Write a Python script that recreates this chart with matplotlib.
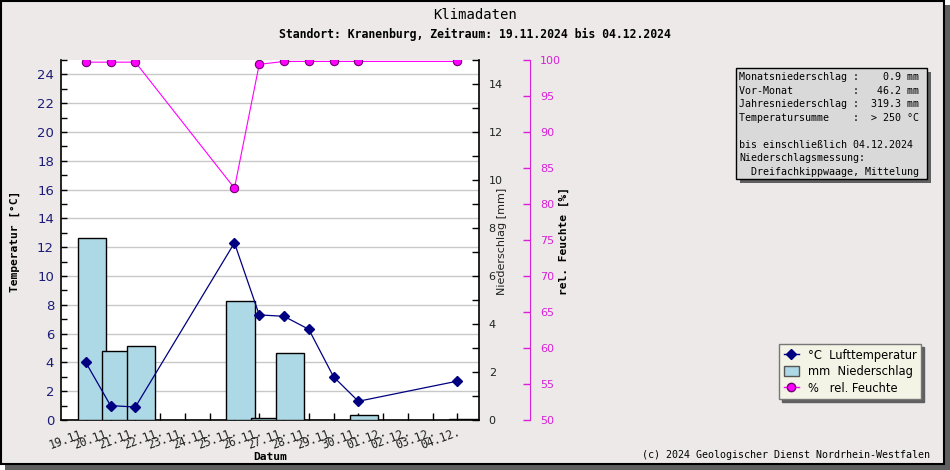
import matplotlib
matplotlib.use('Agg')
import matplotlib.pyplot as plt
from matplotlib.patches import Rectangle, Patch
from matplotlib.lines import Line2D
from matplotlib.ticker import MultipleLocator

# data
dates = ['19.11.', '20.11.', '21.11.', '22.11.', '23.11.', '24.11.', '25.11.', '26.11.',
         '27.11.', '28.11.', '29.11.', '30.11.', '01.12.', '02.12.', '03.12.', '04.12.']
day_idx = [0, 1, 2, 6, 7, 8, 9, 10, 11, 15]
temp = [4.0, 1.0, 0.9, 12.3, 7.3, 7.2, 6.3, 3.0, 1.3, 2.7]
humid = [99.7, 99.7, 99.7, 82.2, 99.4, 99.8, 99.8, 99.8, 99.8, 99.8]
rain_idx = [0, 1, 2, 6, 7, 8, 11, 15]
rain = [7.57, 2.86, 3.07, 4.95, 0.07, 2.78, 0.2, 0.03]

info_lines = ["Monatsniederschlag :    0.9 mm",
              "Vor-Monat          :   46.2 mm",
              "Jahresniederschlag :  319.3 mm",
              "Temperatursumme    :  > 250 °C",
              "",
              "bis einschließlich 04.12.2024",
              "Niederschlagsmessung:",
              "  Dreifachkippwaage, Mittelung"]

W, H = 950, 470
MONO = 'DejaVu Sans Mono'
NAVY = '#000080'
MAG = '#FF00FF'
MAG_TXT = '#D820D8'


def fx(x):
    return x / W


def fy(y):
    return 1 - y / H


fig = plt.figure(figsize=(9.5, 4.7), dpi=100, facecolor='white')

# frame with shadow
fig.add_artist(Rectangle((fx(5), fy(470)), 945 / W, 465 / H, transform=fig.transFigure,
                         facecolor='#5f5f5f', edgecolor='none', zorder=-3))
fig.add_artist(Rectangle((fx(1), fy(464)), 943 / W, 463 / H, transform=fig.transFigure,
                         facecolor='#ECE9E8', edgecolor='black', linewidth=1.5, zorder=-2))

rect = [fx(61), fy(420), (479 - 61) / W, 360 / H]

# temperature axis (base, carries the grid)
ax_t = fig.add_axes(rect, zorder=1)
ax_t.set_facecolor('white')
ax_t.set_xlim(-1.0, 15.87)
ax_t.set_ylim(0, 25)
ax_t.yaxis.set_major_locator(MultipleLocator(2))
ax_t.yaxis.set_minor_locator(MultipleLocator(1))
ax_t.grid(axis='y', which='major', color='#C8C8C8', linewidth=1)
ax_t.set_axisbelow(True)
ax_t.tick_params(axis='y', which='both', direction='in', length=4, width=1,
                 labelsize=9.5, labelcolor='#1c1c78', pad=5)
ax_t.set_xticks(range(len(dates)))
ax_t.set_xticklabels(dates, rotation=20, ha='right', rotation_mode='anchor',
                     family=MONO, fontsize=8.3, color='#222222')
ax_t.tick_params(axis='x', direction='in', length=5, width=1, pad=4)
for s in ['top', 'right']:
    ax_t.spines[s].set_visible(False)
ax_t.spines['left'].set_linewidth(1.2)
ax_t.spines['bottom'].set_linewidth(1.2)

# precipitation bars
ax_p = ax_t.twinx()
ax_p.set_zorder(2)
ax_p.patch.set_visible(False)
ax_p.set_ylim(0, 15)
ax_p.bar([i + 0.24 for i in rain_idx], rain, width=1.14, color='#ADD8E6',
         edgecolor='black', linewidth=1)
ax_p.yaxis.set_major_locator(MultipleLocator(2))
ax_p.yaxis.set_minor_locator(MultipleLocator(1))
ax_p.tick_params(axis='y', which='both', direction='in', length=5, width=1,
                 labelsize=8, labelcolor='#222222', pad=7)
for s in ['top', 'left', 'bottom']:
    ax_p.spines[s].set_visible(False)
ax_p.spines['right'].set_linewidth(1.2)

# temperature line above the bars
ax_l = fig.add_axes(rect, sharex=ax_t, sharey=ax_t, zorder=3)
ax_l.patch.set_visible(False)
ax_l.axis('off')
ax_l.plot(day_idx, temp, color=NAVY, linewidth=0.9, marker='D', markersize=5,
          markerfacecolor=NAVY, markeredgecolor=NAVY)

# humidity
ax_h = ax_t.twinx()
ax_h.set_zorder(4)
ax_h.patch.set_visible(False)
ax_h.set_ylim(50, 100)
ax_h.plot(day_idx, humid, color=MAG, linewidth=0.8, marker='o', markersize=6,
          markerfacecolor=MAG, markeredgecolor='#700070', markeredgewidth=0.8)
ax_h.yaxis.set_major_locator(MultipleLocator(5))
ax_h.tick_params(axis='y', direction='in', length=5, width=1, color=MAG_TXT,
                 labelsize=8, labelcolor=MAG_TXT, pad=7)
ax_h.spines['right'].set_position(('outward', 37))
ax_h.spines['right'].set_color(MAG_TXT)
for s in ['top', 'left', 'bottom']:
    ax_h.spines[s].set_visible(False)

# texts
fig.text(0.5, fy(15), 'Klimadaten', ha='center', va='center', family=MONO, fontsize=10)
fig.text(0.5, fy(34), 'Standort: Kranenburg, Zeitraum: 19.11.2024 bis 04.12.2024',
         ha='center', va='center', family=MONO, fontsize=8.3, fontweight='bold')
fig.text(fx(15), fy(241), 'Temperatur [°C]', rotation=90, ha='center', va='center',
         family=MONO, fontsize=8.1, fontweight='bold')
fig.text(fx(502), fy(241), 'Niederschlag [mm]', rotation=90, ha='center', va='center',
         fontsize=8, color='#222222')
fig.text(fx(564), fy(241), 'rel. Feuchte [%]', rotation=90, ha='center', va='center',
         family=MONO, fontsize=8.1, fontweight='bold')
fig.text(fx(270), fy(457), 'Datum', ha='center', va='center', family=MONO,
         fontsize=8.1, fontweight='bold')
fig.text(fx(930), fy(455), '(c) 2024 Geologischer Dienst Nordrhein-Westfalen',
         ha='right', va='center', family=MONO, fontsize=7.2)

# info box
fig.add_artist(Rectangle((fx(740), fy(183)), 191 / W, 111 / H, transform=fig.transFigure,
                         facecolor='#606060', edgecolor='none', zorder=5))
fig.add_artist(Rectangle((fx(736), fy(179)), 191 / W, 111 / H, transform=fig.transFigure,
                         facecolor='#D9D9D9', edgecolor='black', linewidth=1, zorder=6))
fig.text(fx(739), fy(72), '\n'.join(info_lines), ha='left', va='top', family=MONO,
         fontsize=7.2, linespacing=1.44, zorder=7)

# legend
handles = [Line2D([], [], color=NAVY, marker='D', markersize=5, linewidth=1),
           Patch(facecolor='#ADD8E6', edgecolor='#555555'),
           Line2D([], [], color=MAG, marker='o', markersize=6, markerfacecolor=MAG,
                  markeredgecolor='#700070', linewidth=1)]
labels = ['°C  Lufttemperatur', 'mm  Niederschlag', '%   rel. Feuchte']
leg = fig.legend(handles, labels, loc='upper left', bbox_to_anchor=(fx(779), fy(344)),
                 fontsize=8.3, frameon=True, fancybox=False,
                 shadow={'color': '#606060', 'alpha': 1},
                 edgecolor='#777777', facecolor='#F3F3E6', framealpha=1,
                 handlelength=1.3, handleheight=0.9, handletextpad=0.8,
                 borderpad=0.4, labelspacing=0.3, borderaxespad=0)
leg.get_frame().set_linewidth(1)

fig.savefig('out.png', dpi=100)
